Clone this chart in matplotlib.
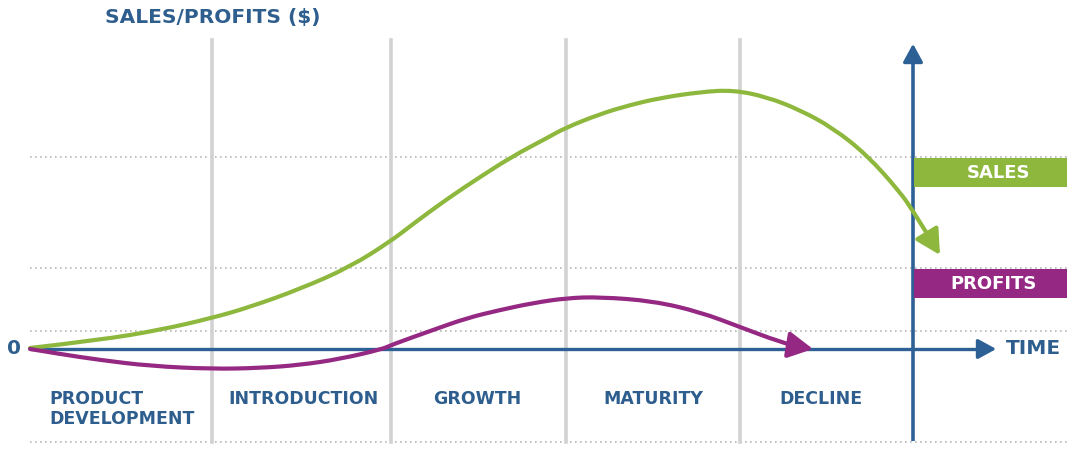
import matplotlib
matplotlib.use("Agg")
import matplotlib.pyplot as plt
from matplotlib.patches import Rectangle, PathPatch
from matplotlib.path import Path

# ---- data (time in chart units, value = height above the time axis) ----
stages = ["PRODUCT\nDEVELOPMENT", "INTRODUCTION", "GROWTH", "MATURITY", "DECLINE"]
series_names = ["SALES", "PROFITS"]

sales_t = [30, 100, 160, 212, 250, 300, 350, 391, 413, 447, 480, 513, 547,
           565, 600, 630, 660, 700, 733, 767, 800, 833, 867, 900, 913, 926]
sales_v = [1, 9, 19, 31, 42, 60, 82, 108, 125, 150, 172, 193, 211,
           221, 235, 244, 251, 257, 259, 252, 239, 221, 194, 157, 138, 117]
sales_tip = (940, 94)

profits_t = [30, 60, 100, 150, 212, 260, 300, 340, 383, 391, 433, 467, 500,
             533, 567, 600, 653, 700, 740, 780, 795]
profits_v = [0, -5, -11, -17, -20, -19, -16, -10, 0, 4, 19, 31, 39,
             46, 51, 52, 48, 37, 22, 7, 3]
profits_tip = (813, 0)

title = "SALES/PROFITS ($)"
x_label = "TIME"
zero_label = "0"

# ---- styling ----
GREEN = "#8DB83D"
PURPLE = "#952882"
BLUE = "#2D6196"
TXT = "#2E5E8E"
GRID = "#D2D2D2"
DOT = "#B8B8B8"
FONT = "DejaVu Sans"

fig = plt.figure(figsize=(10.77, 4.51), dpi=100)
ax = fig.add_axes([0, 0, 1, 1])
ax.set_xlim(0, 1077)
ax.set_ylim(349 - 451, 349)
ax.axis("off")


def smooth_path(xs, ys):
    """Quadratic B-spline style path using the data points as control points."""
    pts = list(zip(xs, ys))
    verts = [pts[0]]
    codes = [Path.MOVETO]
    for i in range(1, len(pts) - 1):
        mid = ((pts[i][0] + pts[i + 1][0]) / 2, (pts[i][1] + pts[i + 1][1]) / 2)
        if i == len(pts) - 2:
            mid = pts[-1]
        verts += [pts[i], mid]
        codes += [Path.CURVE3, Path.CURVE3]
    return Path(verts, codes)


# dotted horizontal guides
for y in [349 - 157, 349 - 268, 349 - 331, 349 - 442]:
    ax.plot([30, 1070], [y, y], color=DOT, lw=1.2, ls=(0, (1, 2)), zorder=1)

# stage dividers
for x in [212, 391, 566, 740]:
    ax.plot([x, x], [349 - 442, 349 - 40], color=GRID, lw=2.6, zorder=1)

# axes
ax.plot([30, 985], [0, 0], color=BLUE, lw=2.4, zorder=2, solid_capstyle="butt")
ax.annotate("", xy=(999, 0), xytext=(980, 0),
            arrowprops=dict(arrowstyle="-|>,head_length=0.55,head_width=0.3",
                            color=BLUE, lw=2.4, mutation_scale=20), zorder=2)
ax.plot([913, 913], [349 - 441, 349 - 60], color=BLUE, lw=2.6, zorder=2, solid_capstyle="butt")
ax.annotate("", xy=(913, 349 - 41), xytext=(913, 349 - 60),
            arrowprops=dict(arrowstyle="-|>,head_length=0.55,head_width=0.3",
                            color=BLUE, lw=2.4, mutation_scale=20), zorder=2)

# legend boxes
ax.add_patch(Rectangle((914, 349 - 187), 153, 29, color=GREEN, zorder=3, lw=0))
ax.add_patch(Rectangle((914, 349 - 298), 153, 29, color=PURPLE, zorder=3, lw=0))
ax.text(998, 349 - 173, series_names[0], color="white", ha="center", va="center",
        fontsize=13, fontweight="bold", family=FONT, zorder=4)
ax.text(994, 349 - 284, series_names[1], color="white", ha="center", va="center",
        fontsize=13, fontweight="bold", family=FONT, zorder=4)

# curves
ax.add_patch(PathPatch(smooth_path(sales_t, sales_v), fill=False, edgecolor=GREEN,
                       lw=3.0, zorder=5, capstyle="round", joinstyle="round"))
ax.annotate("", xy=sales_tip, xytext=(sales_t[-1], sales_v[-1]),
            arrowprops=dict(arrowstyle="-|>,head_length=0.75,head_width=0.4",
                            color=GREEN, lw=3.0, mutation_scale=20, shrinkA=0, shrinkB=0),
            zorder=5)
ax.add_patch(PathPatch(smooth_path(profits_t, profits_v), fill=False, edgecolor=PURPLE,
                       lw=3.0, zorder=5, capstyle="round", joinstyle="round"))
ax.annotate("", xy=profits_tip, xytext=(profits_t[-1], profits_v[-1]),
            arrowprops=dict(arrowstyle="-|>,head_length=0.75,head_width=0.4",
                            color=PURPLE, lw=3.0, mutation_scale=20, shrinkA=0, shrinkB=0),
            zorder=5)

# texts
ax.text(213, 349 - 18, title, color=TXT, ha="center", va="center",
        fontsize=14.5, fontweight="bold", family=FONT)
ax.text(1033, 0, x_label, color=TXT, ha="center", va="center",
        fontsize=14.5, fontweight="bold", family=FONT)
ax.text(14, 1, zero_label, color=TXT, ha="center", va="center",
        fontsize=14.5, fontweight="bold", family=FONT)

ax.text(49, 349 - 409, stages[0], color=TXT, ha="left", va="center",
        fontsize=12.5, fontweight="bold", family=FONT, linespacing=1.2)
for name, xc in zip(stages[1:], [303, 477, 653, 821]):
    ax.text(xc, 349 - 399, name, color=TXT, ha="center", va="center",
            fontsize=12.5, fontweight="bold", family=FONT)

fig.savefig("out.png", dpi=100)
